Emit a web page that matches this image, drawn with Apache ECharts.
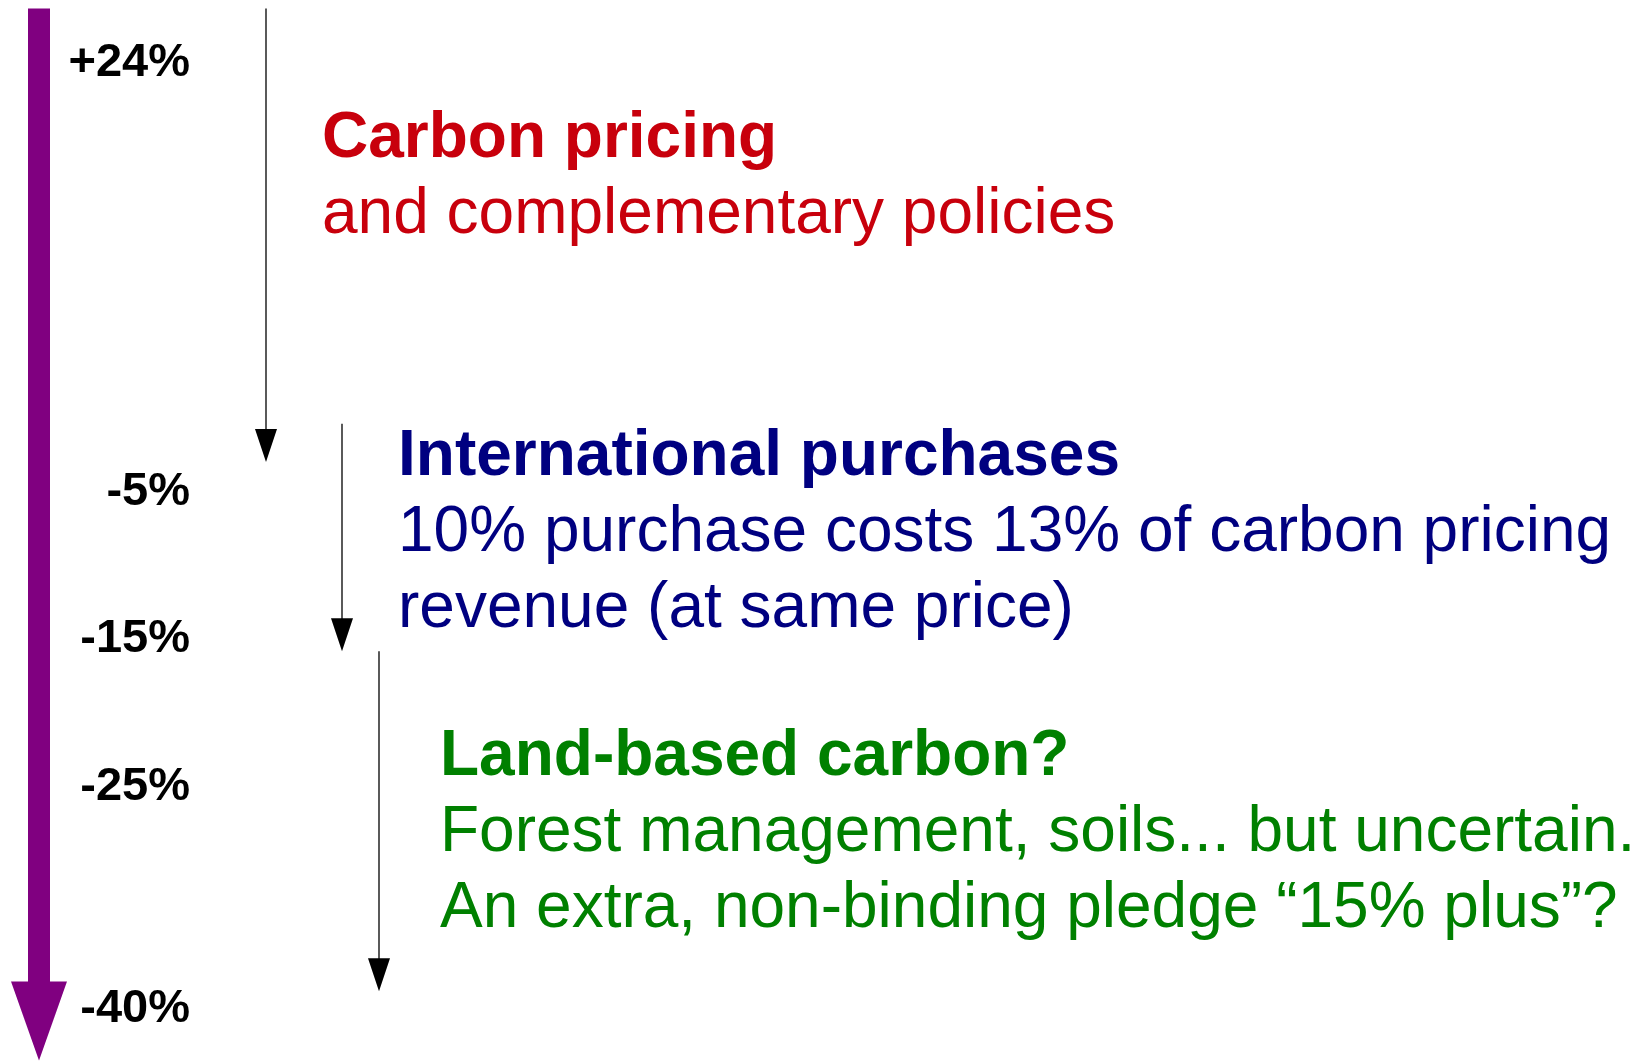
<!DOCTYPE html>
<html>
<head>
<meta charset="utf-8">
<title>Emission reduction pathway</title>
<script src="https://cdn.jsdelivr.net/npm/echarts@6/dist/echarts.min.js"></script>
<style>
  html, body { margin: 0; padding: 0; background: #fff; }
  #chart { width: 1643px; height: 1061px; }
</style>
</head>
<body>
<div id="chart"></div>
<script>
  // emissions change vs. baseline (%), labels shown on the left
  var levelTicks = [24, -5, -15, -25, -40];

  // arrows: where each one starts and ends on the % scale
  var arrowNames = ['Total', 'Carbon pricing', 'International purchases', 'Land-based carbon'];
  var arrowStart = [27.7, 27.7, -0.4, -15.8];
  var arrowEnd = [-43.5, -3, -15.8, -38.8];

  // text blocks next to the arrows
  var blockTitles = ['Carbon pricing', 'International purchases', 'Land-based carbon?'];
  var blockLines = [
    ['and complementary policies'],
    ['10% purchase costs 13% of carbon pricing', 'revenue (at same price)'],
    ['Forest management, soils... but uncertain.', 'An extra, non-binding pledge \u201c15% plus\u201d?']
  ];

  // layout / styles
  var arrowX = [39, 266, 342, 379];
  var arrowLook = [
    { color: '#800080', shaft: 22, headW: 56, headH: 79 },
    { color: '#000', shaft: 1.3, headW: 22, headH: 33 },
    { color: '#000', shaft: 1.3, headW: 22, headH: 33 },
    { color: '#000', shaft: 1.3, headW: 22, headH: 33 }
  ];
  var blockColors = ['#c8000c', '#000080', '#008000'];
  var blockX = [322, 398, 440];
  var blockY = [139, 457, 757];
  var lineGap = 76;
  var fontFam = '"Liberation Sans", Arial, sans-serif';

  var chart = echarts.init(document.getElementById('chart'));

  var graphics = [];
  blockTitles.forEach(function (t, b) {
    graphics.push({
      type: 'text',
      x: blockX[b], y: blockY[b],
      style: { text: t, font: 'bold 64px ' + fontFam, fill: blockColors[b], verticalAlign: 'middle' }
    });
    blockLines[b].forEach(function (line, k) {
      graphics.push({
        type: 'text',
        x: blockX[b], y: blockY[b] + lineGap * (k + 1),
        style: { text: line, font: '64px ' + fontFam, fill: blockColors[b], verticalAlign: 'middle' }
      });
    });
  });

  chart.setOption({
    animation: false,
    grid: { left: 0, right: 0, top: 4, height: 1064, outerBoundsMode: 'none', containLabel: false },
    xAxis: { type: 'value', min: 0, max: 1643, show: false },
    yAxis: {
      type: 'value',
      min: -44,
      max: 28,
      offset: -200,
      axisLine: { show: false },
      axisTick: { show: false },
      splitLine: { show: false },
      axisLabel: {
        customValues: levelTicks,
        margin: 10,
        padding: [8, 0, 0, 0],
        fontFamily: fontFam,
        fontWeight: 'bold',
        fontSize: 47,
        color: '#000',
        formatter: function (v) { return (v > 0 ? '+' : '') + v + '%'; }
      }
    },
    graphic: graphics,
    series: [{
      type: 'custom',
      name: 'arrows',
      data: arrowNames.map(function (n, i) {
        return { name: n, value: [arrowX[i], arrowStart[i], arrowEnd[i]] };
      }),
      renderItem: function (params, api) {
        var i = params.dataIndex;
        var look = arrowLook[i];
        var top = api.coord([api.value(0), api.value(1)]);
        var tip = api.coord([api.value(0), api.value(2)]);
        var headTop = tip[1] - look.headH;
        return {
          type: 'group',
          children: [
            {
              type: 'rect',
              shape: { x: top[0] - look.shaft / 2, y: top[1], width: look.shaft, height: headTop - top[1] + 1 },
              style: { fill: look.color }
            },
            {
              type: 'polygon',
              shape: { points: [[tip[0] - look.headW / 2, headTop], [tip[0] + look.headW / 2, headTop], [tip[0], tip[1]]] },
              style: { fill: look.color }
            }
          ]
        };
      }
    }]
  });
</script>
</body>
</html>
